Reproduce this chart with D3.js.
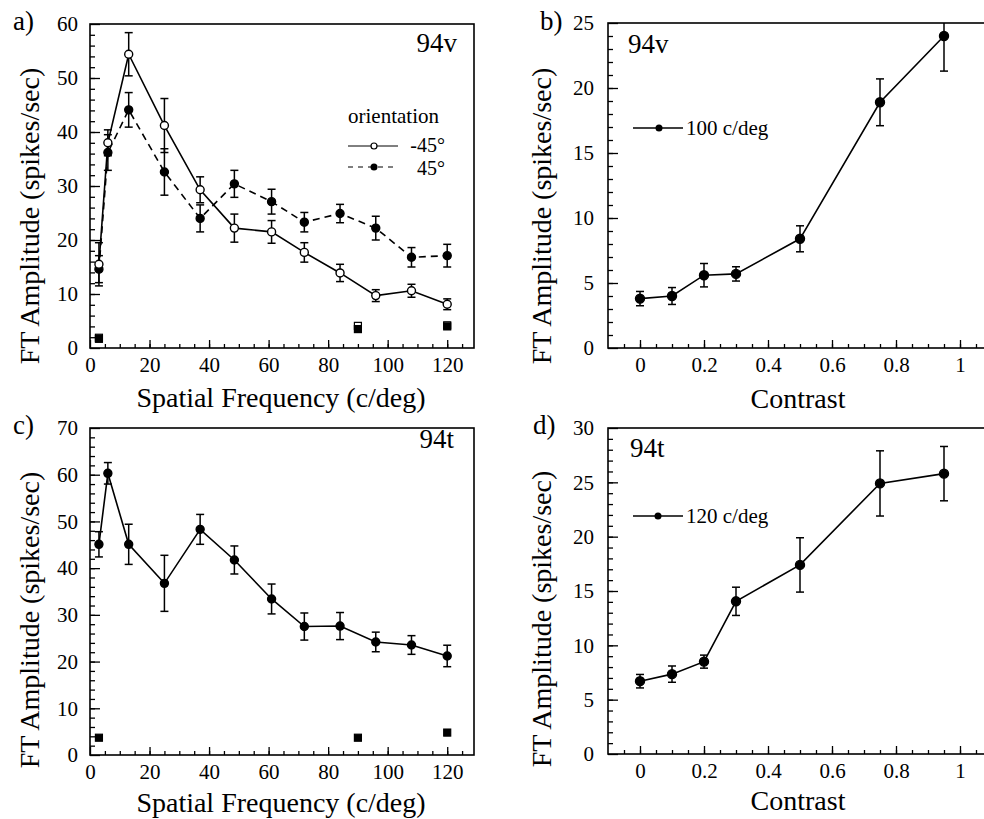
<!DOCTYPE html>
<html><head><meta charset="utf-8">
<script src="https://cdn.jsdelivr.net/npm/d3@7"></script>
<style>
body{margin:0;background:#fff}
text{font-family:"Liberation Serif","Times New Roman",serif;fill:#000}
</style>
</head><body>
<svg id="chart" width="984" height="819"></svg>
<script>
// ---------- data ----------
const sfX = [3, 6, 13, 25, 37, 48.5, 61, 72, 84, 96, 108, 120];
const aNeg45 = [15.5, 38, 54.4, 41.2, 29.3, 22.2, 21.5, 17.7, 13.9, 9.7, 10.6, 8.1];
const aNeg45Err = [4, 2.4, 4, 5, 2.4, 2.6, 2.1, 1.8, 1.6, 1.1, 1.2, 1];
const aPos45 = [14.6, 36.2, 44.1, 32.6, 24.0, 30.4, 27.1, 23.3, 24.9, 22.2, 16.8, 17.1];
const aPos45Err = [2.5, 3.3, 3.2, 4.3, 2.5, 2.5, 2.3, 1.8, 1.7, 2.2, 1.8, 2.1];
const ctrlX = [3, 90, 120];
const aCtrlNeg = [1.9, 4.1, 4.2];
const aCtrlPos = [1.7, 3.5, 4.0];
const aCtrlErr = [0.5, 0.5, 0.5];
const cVals = [45.1, 60.3, 45.1, 36.75, 48.3, 41.75, 33.4, 27.5, 27.6, 24.2, 23.55, 21.2];
const cErr = [2.7, 2.3, 4.3, 6, 3.2, 3, 3.2, 2.9, 2.9, 2.1, 2, 2.3];
const cCtrl = [3.7, 3.7, 4.8];
const cCtrlErr = [0.4, 0.4, 0.6];
const contrastX = [0, 0.1, 0.2, 0.3, 0.5, 0.75, 0.95];
const bVals = [3.8, 4.0, 5.6, 5.7, 8.4, 18.9, 24.0];
const bErr = [0.55, 0.65, 0.9, 0.55, 1.0, 1.8, 2.7];
const dVals = [6.7, 7.35, 8.5, 14.05, 17.4, 24.9, 25.8];
const dErr = [0.62, 0.75, 0.6, 1.3, 2.5, 3.0, 2.5];

const sfMajor = [0, 20, 40, 60, 80, 100, 120];
const contrastMajor = [0, 0.2, 0.4, 0.6, 0.8, 1];
const aYTicks = [0, 10, 20, 30, 40, 50, 60];
const bYTicks = [0, 5, 10, 15, 20, 25];
const cYTicks = [0, 10, 20, 30, 40, 50, 60, 70];
const dYTicks = [0, 5, 10, 15, 20, 25, 30];

// ---------- drawing ----------
const svg = d3.select("#chart");
const FONT = "Liberation Serif";

function styleAxis(sel) {
  sel.attr("font-family", FONT).attr("font-size", 21);
  sel.select(".domain").remove();
  sel.selectAll("line").attr("stroke", "#000").attr("stroke-width", 1.3);
  sel.selectAll("text").attr("fill", "#000");
}

function panel(p) {
  const x = d3.scaleLinear().domain(p.xd).range(p.xr);
  const y = d3.scaleLinear().domain(p.yd).range(p.yr);
  const g = svg.append("g");
  const id = "clip-" + p.name;
  svg.append("clipPath").attr("id", id).append("rect")
    .attr("x", p.xr[0]).attr("y", p.yr[1])
    .attr("width", p.xr[1] - p.xr[0]).attr("height", p.yr[0] - p.yr[1]);
  // minor ticks
  g.append("g").attr("transform", `translate(0,${p.yr[0]})`)
    .call(d3.axisBottom(x).tickValues(p.xMinor).tickSizeInner(-4).tickSizeOuter(0).tickFormat(""))
    .call(styleAxis);
  g.append("g").attr("transform", `translate(${p.xr[0]},0)`)
    .call(d3.axisLeft(y).tickValues(p.yMinor).tickSizeInner(-5).tickSizeOuter(0).tickFormat(""))
    .call(styleAxis);
  // major ticks
  g.append("g").attr("transform", `translate(0,${p.yr[0]})`)
    .call(d3.axisBottom(x).tickValues(p.xMajor).tickSizeInner(-8).tickSizeOuter(0).tickPadding(9).tickFormat(p.xFmt))
    .call(styleAxis);
  g.append("g").attr("transform", `translate(${p.xr[0]},0)`)
    .call(d3.axisLeft(y).tickValues(p.yMajor).tickSizeInner(-10).tickSizeOuter(0).tickPadding(p.yPad).tickFormat(d3.format("d")))
    .call(styleAxis);
  // frame
  g.append("rect").attr("x", p.xr[0]).attr("y", p.yr[1])
    .attr("width", p.xr[1] - p.xr[0]).attr("height", p.yr[0] - p.yr[1])
    .attr("fill", "none").attr("stroke", "#000").attr("stroke-width", 1.6);
  // titles
  g.append("text").attr("x", p.xTitleX).attr("y", p.xTitleY).attr("text-anchor", "middle")
    .attr("font-size", 28).text(p.xTitle);
  g.append("text").attr("transform", `translate(${p.yTitleX},${p.yTitleY}) rotate(-90)`)
    .attr("text-anchor", "middle").attr("font-size", 28).text("FT Amplitude (spikes/sec)");
  g.append("text").attr("x", p.labelX).attr("y", p.labelY).attr("font-size", 27).text(p.label);
  return { g, x, y, clip: `url(#${id})` };
}

function errorBars(P, xs, ys, es, cap) {
  const eg = P.g.append("g").attr("clip-path", P.clip).attr("stroke", "#000").attr("stroke-width", 1.5);
  xs.forEach((xv, i) => {
    const px = P.x(xv), y0 = P.y(ys[i] - es[i]), y1 = P.y(ys[i] + es[i]);
    eg.append("line").attr("x1", px).attr("x2", px).attr("y1", y0).attr("y2", y1);
    eg.append("line").attr("x1", px - cap).attr("x2", px + cap).attr("y1", y0).attr("y2", y0);
    eg.append("line").attr("x1", px - cap).attr("x2", px + cap).attr("y1", y1).attr("y2", y1);
  });
}

function series(P, xs, ys, es, opt) {
  const line = d3.line().x((d, i) => P.x(xs[i])).y(d => P.y(d));
  P.g.append("path").datum(ys).attr("d", line).attr("fill", "none")
    .attr("stroke", "#000").attr("stroke-width", 1.6)
    .attr("stroke-dasharray", opt.dash || null);
  errorBars(P, xs, ys, es, 4);
  P.g.append("g").selectAll("circle").data(ys).join("circle")
    .attr("cx", (d, i) => P.x(xs[i])).attr("cy", d => P.y(d)).attr("r", opt.r || 4)
    .attr("fill", opt.filled ? "#000" : "#fff").attr("stroke", "#000").attr("stroke-width", 1.4);
}

function controls(P, xs, ys, es, filled) {
  errorBars(P, xs, ys, es, 3);
  P.g.append("g").selectAll("rect").data(ys).join("rect")
    .attr("x", (d, i) => P.x(xs[i]) - 3.5).attr("y", d => P.y(d) - 3.5)
    .attr("width", 7).attr("height", 7)
    .attr("fill", filled ? "#000" : "#fff").attr("stroke", "#000").attr("stroke-width", 1.2);
}

const sfFmt = d3.format("d");
const cFmt = d => String(+d.toFixed(1));

// ---- panel a ----
const A = panel({
  name: "a", xd: [0, 129], xr: [90, 474], yd: [0, 60], yr: [348, 24],
  xMajor: sfMajor, xMinor: d3.range(5, 129, 5), yMajor: aYTicks, yMinor: d3.range(2, 60, 2),
  xFmt: sfFmt, yPad: 12,
  xTitle: "Spatial Frequency (c/deg)", xTitleX: 281, xTitleY: 407,
  yTitleX: 39, yTitleY: 216, label: "a)", labelX: 13, labelY: 30
});
series(A, sfX, aPos45, aPos45Err, { filled: true, dash: "7,5" });
series(A, sfX, aNeg45, aNeg45Err, { filled: false });
controls(A, ctrlX, aCtrlNeg, aCtrlErr, false);
controls(A, ctrlX, aCtrlPos, aCtrlErr, true);
A.g.append("text").attr("x", 457).attr("y", 52).attr("text-anchor", "end").attr("font-size", 27).text("94v");
// legend
A.g.append("text").attr("x", 348).attr("y", 123).attr("font-size", 21).text("orientation");
A.g.append("line").attr("x1", 348).attr("x2", 398).attr("y1", 146).attr("y2", 146).attr("stroke", "#000").attr("stroke-width", 1);
A.g.append("circle").attr("cx", 374).attr("cy", 146).attr("r", 3).attr("fill", "#fff").attr("stroke", "#000").attr("stroke-width", 1.2);
A.g.append("text").attr("x", 445).attr("y", 152).attr("text-anchor", "end").attr("font-size", 20).text("-45°");
A.g.append("line").attr("x1", 348).attr("x2", 398).attr("y1", 167).attr("y2", 167).attr("stroke", "#000").attr("stroke-width", 1.2).attr("stroke-dasharray", "5,5");
A.g.append("circle").attr("cx", 374).attr("cy", 167).attr("r", 3.5).attr("fill", "#000");
A.g.append("text").attr("x", 445).attr("y", 175).attr("text-anchor", "end").attr("font-size", 20).text("45°");

// ---- panel b ----
const B = panel({
  name: "b", xd: [-0.1, 1.1], xr: [608, 992], yd: [0, 25], yr: [348, 23],
  xMajor: contrastMajor, xMinor: d3.range(-0.05, 1.09, 0.05), yMajor: bYTicks, yMinor: d3.range(1, 25, 1),
  xFmt: cFmt, yPad: 14,
  xTitle: "Contrast", xTitleX: 798, xTitleY: 408,
  yTitleX: 551, yTitleY: 216, label: "b)", labelX: 540, labelY: 30
});
series(B, contrastX, bVals, bErr, { filled: true, r: 4.5 });
B.g.append("text").attr("x", 628).attr("y", 53).attr("font-size", 27).text("94v");
B.g.append("line").attr("x1", 633).attr("x2", 683).attr("y1", 128).attr("y2", 128).attr("stroke", "#000").attr("stroke-width", 1.3);
B.g.append("circle").attr("cx", 659).attr("cy", 128).attr("r", 3.5).attr("fill", "#000");
B.g.append("text").attr("x", 686).attr("y", 135).attr("font-size", 21).text("100 c/deg");

// ---- panel c ----
const C = panel({
  name: "c", xd: [0, 129], xr: [90, 474], yd: [0, 70], yr: [755, 428],
  xMajor: sfMajor, xMinor: d3.range(5, 129, 5), yMajor: cYTicks, yMinor: d3.range(2, 70, 2),
  xFmt: sfFmt, yPad: 12,
  xTitle: "Spatial Frequency (c/deg)", xTitleX: 281, xTitleY: 812,
  yTitleX: 39, yTitleY: 620, label: "c)", labelX: 13, labelY: 434
});
series(C, sfX, cVals, cErr, { filled: true });
controls(C, ctrlX, cCtrl, cCtrlErr, true);
C.g.append("text").attr("x", 454).attr("y", 448).attr("text-anchor", "end").attr("font-size", 27).text("94t");

// ---- panel d ----
const D = panel({
  name: "d", xd: [-0.1, 1.1], xr: [608, 992], yd: [0, 30], yr: [754, 428],
  xMajor: contrastMajor, xMinor: d3.range(-0.05, 1.09, 0.05), yMajor: dYTicks, yMinor: d3.range(1, 30, 1),
  xFmt: cFmt, yPad: 14,
  xTitle: "Contrast", xTitleX: 798, xTitleY: 810,
  yTitleX: 551, yTitleY: 619, label: "d)", labelX: 533, labelY: 434
});
series(D, contrastX, dVals, dErr, { filled: true, r: 4.5 });
D.g.append("text").attr("x", 630).attr("y", 457).attr("font-size", 27).text("94t");
D.g.append("line").attr("x1", 633).attr("x2", 683).attr("y1", 516).attr("y2", 516).attr("stroke", "#000").attr("stroke-width", 1.3);
D.g.append("circle").attr("cx", 658).attr("cy", 516).attr("r", 3.5).attr("fill", "#000");
D.g.append("text").attr("x", 686).attr("y", 523).attr("font-size", 21).text("120 c/deg");
</script>
</body></html>
